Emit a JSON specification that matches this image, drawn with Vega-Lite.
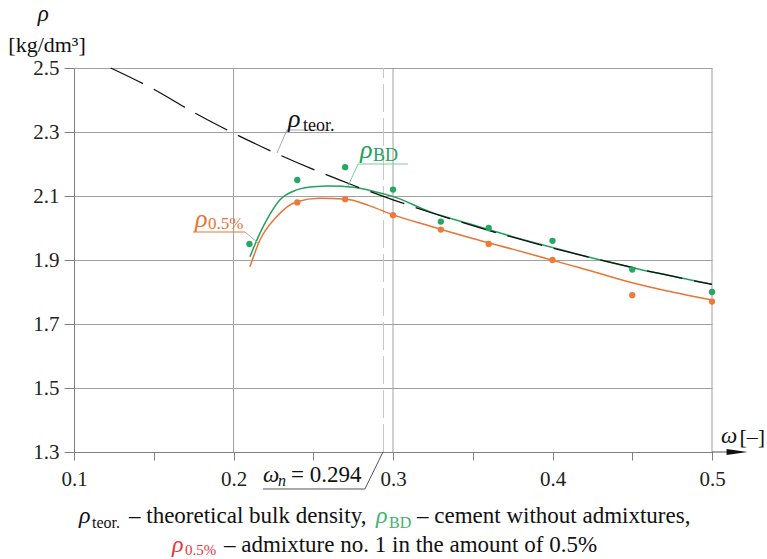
{
  "$schema": "https://vega.github.io/schema/vega-lite/v6.json",
  "width": 638,
  "height": 384,
  "autosize": {"type": "none"},
  "padding": {"left": 74, "top": 68, "right": 55, "bottom": 107},
  "background": "white",
  "config": {
    "view": {"stroke": null},
    "font": "Liberation Serif, DejaVu Serif, serif",
    "text": {"font": "Liberation Serif, DejaVu Serif, serif", "align": "left", "baseline": "alphabetic", "clip": false},
    "rule": {"clip": false},
    "axis": {"labelFont": "Liberation Serif, DejaVu Serif, serif", "titleFont": "Liberation Serif, DejaVu Serif, serif"}
  },
  "datasets": {
    "pts": [
      {"w": 0.21, "rho": 1.95, "series": "BD"},
      {"w": 0.24, "rho": 2.15, "series": "BD"},
      {"w": 0.27, "rho": 2.19, "series": "BD"},
      {"w": 0.30, "rho": 2.12, "series": "BD"},
      {"w": 0.33, "rho": 2.02, "series": "BD"},
      {"w": 0.36, "rho": 2.00, "series": "BD"},
      {"w": 0.40, "rho": 1.96, "series": "BD"},
      {"w": 0.45, "rho": 1.87, "series": "BD"},
      {"w": 0.50, "rho": 1.80, "series": "BD"},
      {"w": 0.24, "rho": 2.08, "series": "0.5%"},
      {"w": 0.27, "rho": 2.09, "series": "0.5%"},
      {"w": 0.30, "rho": 2.04, "series": "0.5%"},
      {"w": 0.33, "rho": 1.995, "series": "0.5%"},
      {"w": 0.36, "rho": 1.95, "series": "0.5%"},
      {"w": 0.40, "rho": 1.90, "series": "0.5%"},
      {"w": 0.45, "rho": 1.79, "series": "0.5%"},
      {"w": 0.50, "rho": 1.77, "series": "0.5%"}
    ],
    "curves": [
      {"w": 0.2103, "rho": 1.910, "series": "BD"},
      {"w": 0.2166, "rho": 1.984, "series": "BD"},
      {"w": 0.2225, "rho": 2.040, "series": "BD"},
      {"w": 0.229, "rho": 2.0875, "series": "BD"},
      {"w": 0.2396, "rho": 2.119, "series": "BD"},
      {"w": 0.25, "rho": 2.129, "series": "BD"},
      {"w": 0.2605, "rho": 2.131, "series": "BD"},
      {"w": 0.275, "rho": 2.127, "series": "BD"},
      {"w": 0.2875, "rho": 2.115, "series": "BD"},
      {"w": 0.3002, "rho": 2.098, "series": "BD"},
      {"w": 0.323, "rho": 2.051, "series": "BD"},
      {"w": 0.35, "rho": 2.010, "series": "BD"},
      {"w": 0.375, "rho": 1.973, "series": "BD"},
      {"w": 0.4, "rho": 1.939, "series": "BD"},
      {"w": 0.425, "rho": 1.906, "series": "BD"},
      {"w": 0.45, "rho": 1.876, "series": "BD"},
      {"w": 0.475, "rho": 1.850, "series": "BD"},
      {"w": 0.5, "rho": 1.824, "series": "BD"},
      {"w": 0.2103, "rho": 1.879, "series": "0.5%"},
      {"w": 0.2166, "rho": 1.9625, "series": "0.5%"},
      {"w": 0.227, "rho": 2.035, "series": "0.5%"},
      {"w": 0.2396, "rho": 2.082, "series": "0.5%"},
      {"w": 0.254, "rho": 2.093, "series": "0.5%"},
      {"w": 0.271, "rho": 2.0897, "series": "0.5%"},
      {"w": 0.285, "rho": 2.070, "series": "0.5%"},
      {"w": 0.3002, "rho": 2.041, "series": "0.5%"},
      {"w": 0.323, "rho": 2.006, "series": "0.5%"},
      {"w": 0.35, "rho": 1.967, "series": "0.5%"},
      {"w": 0.375, "rho": 1.934, "series": "0.5%"},
      {"w": 0.4, "rho": 1.899, "series": "0.5%"},
      {"w": 0.417, "rho": 1.876, "series": "0.5%"},
      {"w": 0.45, "rho": 1.829, "series": "0.5%"},
      {"w": 0.475, "rho": 1.800, "series": "0.5%"},
      {"w": 0.5, "rho": 1.775, "series": "0.5%"}
    ],
    "teor": [
      {"w": 0.123, "rho": 2.5},
      {"w": 0.15, "rho": 2.4335},
      {"w": 0.175, "rho": 2.3614},
      {"w": 0.2, "rho": 2.2963},
      {"w": 0.225, "rho": 2.2371},
      {"w": 0.25, "rho": 2.1831},
      {"w": 0.275, "rho": 2.1336},
      {"w": 0.3, "rho": 2.0881},
      {"w": 0.325, "rho": 2.0461},
      {"w": 0.35, "rho": 2.0072},
      {"w": 0.375, "rho": 1.9711},
      {"w": 0.4, "rho": 1.9375},
      {"w": 0.425, "rho": 1.9062},
      {"w": 0.45, "rho": 1.8768},
      {"w": 0.475, "rho": 1.8493},
      {"w": 0.5, "rho": 1.8235}
    ],
    "vgrid": [{"w": 0.2}, {"w": 0.3}, {"w": 0.5}],
    "one": [{"k": 1}]
  },
  "layer": [
    {"data": {"name": "vgrid"}, "mark": {"type": "rule", "color": "#a0a0a0", "strokeWidth": 1},
     "encoding": {
      "x": {
        "field": "w", "type": "quantitative", "title": null,
        "scale": {"domain": [0.1, 0.5], "nice": false, "zero": false},
        "axis": {
          "title": null,
          "values": [0.1, 0.15, 0.2, 0.25, 0.3, 0.35, 0.4, 0.45, 0.5],
          "grid": false,
          "tickSize": 8, "tickColor": "#808080", "domainColor": "#808080",
          "labelExpr": "abs(datum.value*10 - round(datum.value*10)) < 0.001 ? format(datum.value, '.1f') : ''",
          "labelFontSize": 21, "labelColor": "#222",
          "labelPadding": 8, "labelFlush": false, "labelOverlap": false
        }
      },
      "y": {
        "datum": 1.3, "type": "quantitative", "title": null,
        "scale": {"domain": [1.3, 2.5], "nice": false, "zero": false},
        "axis": {
          "title": null,
          "values": [1.3, 1.5, 1.7, 1.9, 2.1, 2.3, 2.5],
          "format": ".1f",
          "grid": true, "gridColor": "#a0a0a0", "gridOpacity": 1,
          "tickSize": 10, "tickColor": "#808080", "domainColor": "#808080",
          "labelFontSize": 21, "labelColor": "#222",
          "labelPadding": 5, "labelOverlap": false, "labelBaseline": "middle"
        }
      },
      "y2": {"datum": 2.5}
     }},
    {"data": {"name": "one"}, "mark": {"type": "rule", "color": "#c4c4c4", "strokeWidth": 1, "strokeDash": [28, 6]},
     "encoding": {"x": {"datum": 0.294, "type": "quantitative"}, "y": {"datum": 1.3, "type": "quantitative"}, "y2": {"datum": 2.5}}},
    {"data": {"name": "curves"}, "transform": [{"filter": "datum.series == 'BD'"}],
     "mark": {"type": "line", "color": "#23a05a", "strokeWidth": 1.5, "interpolate": "monotone"},
     "encoding": {"x": {"field": "w", "type": "quantitative", "title": null}, "y": {"field": "rho", "type": "quantitative", "title": null}}},
    {"data": {"name": "curves"}, "transform": [{"filter": "datum.series == '0.5%'"}],
     "mark": {"type": "line", "color": "#ea7434", "strokeWidth": 1.5, "interpolate": "monotone"},
     "encoding": {"x": {"field": "w", "type": "quantitative", "title": null}, "y": {"field": "rho", "type": "quantitative", "title": null}}},
    {"data": {"name": "teor"},
     "mark": {"type": "line", "color": "#111", "strokeWidth": 1.3, "strokeDash": [36, 12], "interpolate": "monotone"},
     "encoding": {"x": {"field": "w", "type": "quantitative", "title": null}, "y": {"field": "rho", "type": "quantitative", "title": null}}},
    {"data": {"name": "pts"}, "transform": [{"filter": "datum.series == 'BD'"}],
     "mark": {"type": "circle", "color": "#25a862", "opacity": 1, "size": 40},
     "encoding": {"x": {"field": "w", "type": "quantitative", "title": null}, "y": {"field": "rho", "type": "quantitative", "title": null}}},
    {"data": {"name": "pts"}, "transform": [{"filter": "datum.series == '0.5%'"}],
     "mark": {"type": "circle", "color": "#ec7a3c", "opacity": 1, "size": 40},
     "encoding": {"x": {"field": "w", "type": "quantitative", "title": null}, "y": {"field": "rho", "type": "quantitative", "title": null}}},

    {"data": {"name": "one"}, "mark": {"type": "rule", "color": "#aaa", "strokeWidth": 1},
     "encoding": {"x": {"datum": 0.2335, "type": "quantitative"}, "x2": {"datum": 0.2273}, "y": {"datum": 2.3063, "type": "quantitative"}, "y2": {"datum": 2.2344}}},
    {"data": {"name": "one"}, "mark": {"type": "rule", "color": "#aaa", "strokeWidth": 1},
     "encoding": {"x": {"datum": 0.2335, "type": "quantitative"}, "x2": {"datum": 0.2586}, "y": {"datum": 2.3063, "type": "quantitative"}, "y2": {"datum": 2.3063}}},
    {"data": {"name": "one"}, "mark": {"type": "text", "text": "ρ", "fontStyle": "italic", "fontSize": 26, "color": "#111"},
     "encoding": {"x": {"datum": 0.2342, "type": "quantitative"}, "y": {"datum": 2.3156, "type": "quantitative"}}},
    {"data": {"name": "one"}, "mark": {"type": "text", "text": "teor.", "fontSize": 18, "color": "#111"},
     "encoding": {"x": {"datum": 0.2436, "type": "quantitative"}, "y": {"datum": 2.303, "type": "quantitative"}}},

    {"data": {"name": "one"}, "mark": {"type": "rule", "color": "#7ccc9c", "strokeWidth": 1},
     "encoding": {"x": {"datum": 0.2781, "type": "quantitative"}, "x2": {"datum": 0.2718}, "y": {"datum": 2.2, "type": "quantitative"}, "y2": {"datum": 2.1313}}},
    {"data": {"name": "one"}, "mark": {"type": "rule", "color": "#7ccc9c", "strokeWidth": 1},
     "encoding": {"x": {"datum": 0.2781, "type": "quantitative"}, "x2": {"datum": 0.3094}, "y": {"datum": 2.2, "type": "quantitative"}, "y2": {"datum": 2.2}}},
    {"data": {"name": "one"}, "mark": {"type": "text", "text": "ρ", "fontStyle": "italic", "fontSize": 26, "color": "#23a05a"},
     "encoding": {"x": {"datum": 0.2793, "type": "quantitative"}, "y": {"datum": 2.2188, "type": "quantitative"}}},
    {"data": {"name": "one"}, "mark": {"type": "text", "text": "BD", "fontSize": 18, "color": "#23a05a"},
     "encoding": {"x": {"datum": 0.2875, "type": "quantitative"}, "y": {"datum": 2.2094, "type": "quantitative"}}},

    {"data": {"name": "one"}, "mark": {"type": "rule", "color": "#aaa", "strokeWidth": 1},
     "encoding": {"x": {"datum": 0.2072, "type": "quantitative"}, "x2": {"datum": 0.2154}, "y": {"datum": 1.9875, "type": "quantitative"}, "y2": {"datum": 1.9531}}},
    {"data": {"name": "one"}, "mark": {"type": "rule", "color": "#ea7434", "strokeWidth": 1},
     "encoding": {"x": {"datum": 0.1746, "type": "quantitative"}, "x2": {"datum": 0.2072}, "y": {"datum": 1.9875, "type": "quantitative"}, "y2": {"datum": 1.9875}}},
    {"data": {"name": "one"}, "mark": {"type": "text", "text": "ρ", "fontStyle": "italic", "fontSize": 26, "color": "#ea7434"},
     "encoding": {"x": {"datum": 0.1759, "type": "quantitative"}, "y": {"datum": 2.0031, "type": "quantitative"}}},
    {"data": {"name": "one"}, "mark": {"type": "text", "text": "0.5%", "fontSize": 17, "color": "#ea7434"},
     "encoding": {"x": {"datum": 0.184, "type": "quantitative"}, "y": {"datum": 1.9969, "type": "quantitative"}}},

    {"data": {"name": "one"}, "mark": {"type": "rule", "color": "#555", "strokeWidth": 1},
     "encoding": {"x": {"datum": 0.2185, "type": "quantitative"}, "x2": {"datum": 0.2824}, "y": {"datum": 1.1844, "type": "quantitative"}, "y2": {"datum": 1.1844}}},
    {"data": {"name": "one"}, "mark": {"type": "rule", "color": "#555", "strokeWidth": 1},
     "encoding": {"x": {"datum": 0.2824, "type": "quantitative"}, "x2": {"datum": 0.2937}, "y": {"datum": 1.1844, "type": "quantitative"}, "y2": {"datum": 1.3}}},
    {"data": {"name": "one"}, "mark": {"type": "text", "text": "ω", "fontStyle": "italic", "fontSize": 23, "color": "#111"},
     "encoding": {"x": {"datum": 0.2185, "type": "quantitative"}, "y": {"datum": 1.2063, "type": "quantitative"}}},
    {"data": {"name": "one"}, "mark": {"type": "text", "text": "n", "fontStyle": "italic", "fontSize": 16, "color": "#111"},
     "encoding": {"x": {"datum": 0.2279, "type": "quantitative"}, "y": {"datum": 1.1938, "type": "quantitative"}}},
    {"data": {"name": "one"}, "mark": {"type": "text", "text": "= 0.294", "fontSize": 23, "color": "#111"},
     "encoding": {"x": {"datum": 0.2361, "type": "quantitative"}, "y": {"datum": 1.2063, "type": "quantitative"}}},

    {"data": {"name": "one"}, "mark": {"type": "rule", "color": "#555", "strokeWidth": 1},
     "encoding": {"x": {"datum": 0.5, "type": "quantitative"}, "x2": {"datum": 0.517}, "y": {"datum": 1.3, "type": "quantitative"}, "y2": {"datum": 1.3}}},
    {"data": {"name": "one"}, "mark": {"type": "point", "shape": "M-1,-0.28L1,0L-1,0.28Z", "size": 441, "filled": true, "color": "#111", "opacity": 1, "clip": false},
     "encoding": {"x": {"datum": 0.5157, "type": "quantitative"}, "y": {"datum": 1.3, "type": "quantitative"}}},
    {"data": {"name": "one"}, "mark": {"type": "text", "text": "ω", "fontStyle": "italic", "fontSize": 23, "color": "#111"},
     "encoding": {"x": {"datum": 0.5056, "type": "quantitative"}, "y": {"datum": 1.3281, "type": "quantitative"}}},
    {"data": {"name": "one"}, "mark": {"type": "text", "text": "[–]", "fontSize": 22, "color": "#111"},
     "encoding": {"x": {"datum": 0.5172, "type": "quantitative"}, "y": {"datum": 1.325, "type": "quantitative"}}},

    {"data": {"name": "one"}, "mark": {"type": "text", "text": "ρ", "fontStyle": "italic", "fontSize": 23, "align": "center", "color": "#111"},
     "encoding": {"x": {"datum": 0.0808, "type": "quantitative"}, "y": {"datum": 2.647, "type": "quantitative"}}},
    {"data": {"name": "one"}, "mark": {"type": "text", "text": "[kg/dm³]", "fontSize": 22, "align": "center", "color": "#111"},
     "encoding": {"x": {"datum": 0.0831, "type": "quantitative"}, "y": {"datum": 2.55, "type": "quantitative"}}},

    {"data": {"name": "one"}, "mark": {"type": "text", "text": "ρ", "fontStyle": "italic", "fontSize": 24, "color": "#111"},
     "encoding": {"x": {"datum": 0.10313, "type": "quantitative"}, "y": {"datum": 1.07813, "type": "quantitative"}}},
    {"data": {"name": "one"}, "mark": {"type": "text", "text": "teor.", "fontSize": 16, "color": "#111"},
     "encoding": {"x": {"datum": 0.11129, "type": "quantitative"}, "y": {"datum": 1.0625, "type": "quantitative"}}},
    {"data": {"name": "one"}, "mark": {"type": "text", "text": "– theoretical bulk density,", "fontSize": 23, "color": "#111"},
     "encoding": {"x": {"datum": 0.13448, "type": "quantitative"}, "y": {"datum": 1.07813, "type": "quantitative"}}},
    {"data": {"name": "one"}, "mark": {"type": "text", "text": "ρ", "fontStyle": "italic", "fontSize": 24, "color": "#3cb371"},
     "encoding": {"x": {"datum": 0.28934, "type": "quantitative"}, "y": {"datum": 1.07813, "type": "quantitative"}}},
    {"data": {"name": "one"}, "mark": {"type": "text", "text": "BD", "fontSize": 16, "color": "#3cb371"},
     "encoding": {"x": {"datum": 0.29749, "type": "quantitative"}, "y": {"datum": 1.0625, "type": "quantitative"}}},
    {"data": {"name": "one"}, "mark": {"type": "text", "text": "– cement without admixtures,", "fontSize": 23, "color": "#111"},
     "encoding": {"x": {"datum": 0.31505, "type": "quantitative"}, "y": {"datum": 1.07813, "type": "quantitative"}}},
    {"data": {"name": "one"}, "mark": {"type": "text", "text": "ρ", "fontStyle": "italic", "fontSize": 24, "color": "#e8303f"},
     "encoding": {"x": {"datum": 0.16144, "type": "quantitative"}, "y": {"datum": 0.9875, "type": "quantitative"}}},
    {"data": {"name": "one"}, "mark": {"type": "text", "text": "0.5%", "fontSize": 15, "color": "#e8303f"},
     "encoding": {"x": {"datum": 0.16959, "type": "quantitative"}, "y": {"datum": 0.97813, "type": "quantitative"}}},
    {"data": {"name": "one"}, "mark": {"type": "text", "text": "– admixture no. 1 in the amount of 0.5%", "fontSize": 23, "color": "#111"},
     "encoding": {"x": {"datum": 0.19404, "type": "quantitative"}, "y": {"datum": 0.9875, "type": "quantitative"}}}
  ]
}
